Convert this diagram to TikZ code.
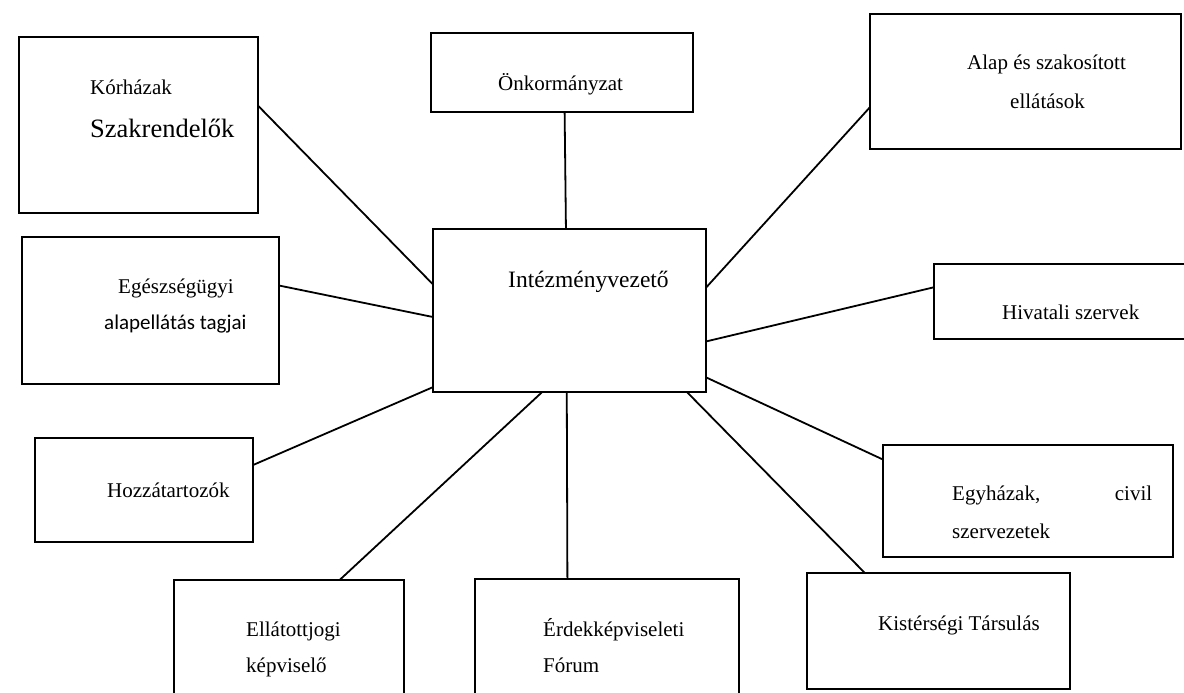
\documentclass[tikz,border=0pt]{standalone}
\usepackage{fontspec}
\setmainfont{Liberation Serif}
\newfontfamily\calibrifont{Carlito}
\usetikzlibrary{calc}
\begin{document}
\begin{tikzpicture}[x=1pt, y=-1pt,
	box/.style={draw, line width=1.8pt, inner sep=0pt, outer sep=0pt},
	txt/.style={anchor=base west, inner sep=0pt, font=\fontsize{21}{25}\selectfont},
	link/.style={line width=1.8pt}]
	\useasboundingbox (0,0) rectangle (1184,693);
	\node[box, minimum width=239pt, minimum height=176pt] (kor) at (138.5,125) {};
	\node[box, minimum width=262pt, minimum height=79pt] (onk) at (562,72.5) {};
	\node[box, minimum width=311pt, minimum height=135pt] (alap) at (1025.5,81.5) {};
	\node[box, minimum width=273pt, minimum height=163pt] (vez) at (569.5,310.5) {};
	\node[box, minimum width=257pt, minimum height=147pt] (ege) at (150.5,310.5) {};
	\node[box, minimum width=261pt, minimum height=75pt] (hiv) at (1064.5,301.5) {};
	\node[box, minimum width=218pt, minimum height=104pt] (hoz) at (144,490) {};
	\node[box, minimum width=290pt, minimum height=112pt] (egy) at (1028,501) {};
	\node[box, minimum width=230pt, minimum height=125pt] (ell) at (289,642.5) {};
	\node[box, minimum width=264pt, minimum height=126pt] (erd) at (607,642) {};
	\node[box, minimum width=263pt, minimum height=116pt] (kis) at (938.5,631) {};

	\node[txt] (korA) at (90,95) {Kórházak};
	\node[txt, font=\fontsize{26.5}{30}\selectfont] (korB) at (90,137) {Szakrendelők};
	\node[txt] (onkA) at (498,91) {Önkormányzat};
	\node[txt] (alapA) at (967,70) {Alap és szakosított};
	\node[txt] (alapB) at (1010,108) {ellátások};
	\node[txt, font=\fontsize{23.5}{28}\selectfont] (vezA) at (508,287) {Intézményvezető};
	\node[txt] (egeA) at (118,293) {Egészségügyi};
	\node[txt, font=\calibrifont\fontsize{21}{25}\selectfont] (egeB) at (104,329) {alapellátás tagjai};
	\node[txt] (hivA) at (1002,319) {Hivatali szervek};
	\node[txt] (hozA) at (107,497) {Hozzátartozók};
	\node[txt] (egyA) at (952,500) {\makebox[200pt][l]{Egyházak,\hfill civil}};
	\node[txt] (egyB) at (952,538) {szervezetek};
	\node[txt] (ellA) at (246,636) {Ellátottjogi};
	\node[txt] (ellB) at (246,672) {képviselő};
	\node[txt] (erdA) at (543,636) {Érdekképviseleti};
	\node[txt] (erdB) at (543,672) {Fórum};
	\node[txt] (kisA) at (878,630) {Kistérségi Társulás};

	\draw[link] ($(kor.north east)!0.39!(kor.south east)$) -- ($(vez.north west)!0.34!(vez.south west)$);
	\draw[link] ($(onk.south west)!0.51!(onk.south east)$) -- ($(vez.north west)!0.487!(vez.north east)$);
	\draw[link] ($(alap.north west)!0.69!(alap.south west)$) -- ($(vez.north east)!0.36!(vez.south east)$);
	\draw[link] ($(ege.north east)!0.33!(ege.south east)$) -- ($(vez.north west)!0.54!(vez.south west)$);
	\draw[link] ($(hiv.north west)!0.31!(hiv.south west)$) -- ($(vez.north east)!0.69!(vez.south east)$);
	\draw[link] ($(hoz.north east)!0.26!(hoz.south east)$) -- ($(vez.north west)!0.97!(vez.south west)$);
	\draw[link] ($(egy.north west)!0.13!(egy.south west)$) -- ($(vez.north east)!0.91!(vez.south east)$);
	\draw[link] ($(ell.north west)!0.72!(ell.north east)$) -- ($(vez.south west)!0.40!(vez.south east)$);
	\draw[link] ($(erd.north west)!0.35!(erd.north east)$) -- ($(vez.south west)!0.49!(vez.south east)$);
	\draw[link] ($(kis.north west)!0.22!(kis.north east)$) -- ($(vez.south west)!0.93!(vez.south east)$);
\end{tikzpicture}
\end{document}
